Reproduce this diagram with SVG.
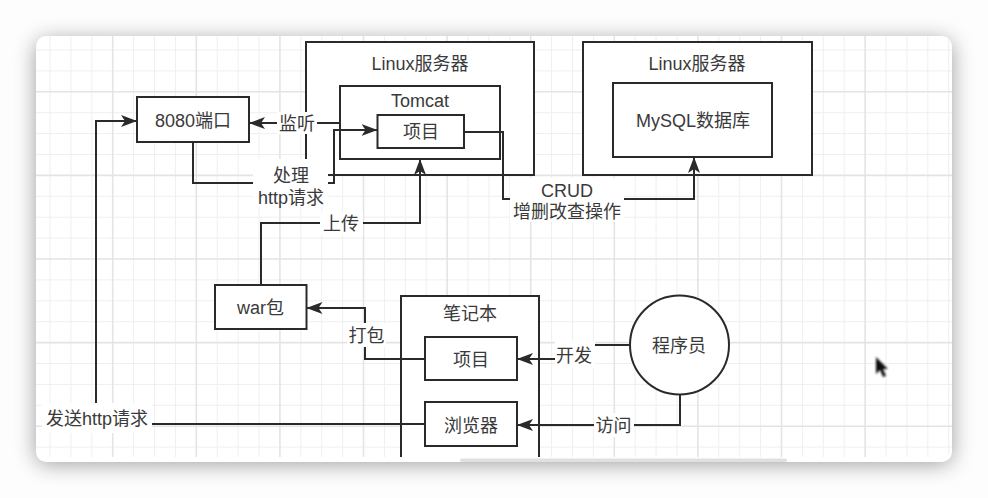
<svg xmlns="http://www.w3.org/2000/svg" width="988" height="498" viewBox="0 0 988 498">
<style>
.box{fill:#fff;stroke:#2a2a2a;stroke-width:2}
.t{font-family:"Liberation Sans","Noto Sans CJK SC",sans-serif;font-size:18px;fill:#3a3a3a;text-anchor:middle}
.e{fill:none;stroke:#2a2a2a;stroke-width:2}
.lb{fill:#fff}
.g{fill:none;stroke:#efefef;stroke-width:1}
.gm{fill:none;stroke:#e4e4e4;stroke-width:1.6}
</style>
<defs>
<marker id="ah" markerUnits="userSpaceOnUse" markerWidth="16" markerHeight="12" viewBox="0 0 16 12" refX="16" refY="6" orient="auto">
<path d="M0,0 L16,6 L0,12 L4,6 Z" fill="#2a2a2a"/>
</marker>
<filter id="sh" x="-20%" y="-20%" width="140%" height="140%">
<feGaussianBlur stdDeviation="11"/>
</filter>
<filter id="cb" x="-50%" y="-50%" width="200%" height="200%">
<feGaussianBlur stdDeviation="0.8"/>
</filter>
<clipPath id="cc">
<rect x="36" y="36" width="916" height="421" rx="10"/>
</clipPath>
</defs>

<rect x="0" y="0" width="988" height="498" fill="#fdfdfd"/>
<rect x="36" y="40" width="916" height="424" rx="10" fill="#000" opacity="0.38" filter="url(#sh)"/>
<rect x="36" y="36" width="916" height="426" rx="10" fill="#fff"/>

<g clip-path="url(#cc)">
<path class="g" d="M50 36V462M70.9 36V462M91.8 36V462M133.6 36V462M154.5 36V462M175.4 36V462M217.2 36V462M238.1 36V462M259 36V462M300.8 36V462M321.7 36V462M342.6 36V462M384.4 36V462M405.3 36V462M426.2 36V462M468 36V462M488.9 36V462M509.8 36V462M551.6 36V462M572.5 36V462M593.4 36V462M635.2 36V462M656.1 36V462M677 36V462M718.8 36V462M739.7 36V462M760.6 36V462M802.4 36V462M823.3 36V462M844.2 36V462M886 36V462M906.9 36V462M927.8 36V462M948.7 36V462M36 50H952M36 70.9H952M36 112.7H952M36 133.6H952M36 154.5H952M36 196.3H952M36 217.2H952M36 238.1H952M36 279.9H952M36 300.8H952M36 321.7H952M36 363.5H952M36 384.4H952M36 405.3H952M36 447.1H952"/>
<path class="gm" d="M112.7 36V462M196.3 36V462M279.9 36V462M363.5 36V462M447.1 36V462M530.7 36V462M614.3 36V462M697.9 36V462M781.5 36V462M865.1 36V462M36 91.8H952M36 175.4H952M36 259H952M36 342.6H952M36 426.2H952"/>

<g id="linux1">
<rect class="box" x="306" y="42" width="228" height="133"/>
<text class="t" x="420" y="69.5">Linux服务器</text>
</g>
<g id="tomcat">
<rect class="box" x="340" y="86" width="160" height="73"/>
<text class="t" x="420" y="106.5">Tomcat</text>
</g>
<g id="project-server">
<rect class="box" x="377.5" y="115" width="86.5" height="33"/>
<text class="t" x="421" y="137.5">项目</text>
</g>
<g id="linux2">
<rect class="box" x="583" y="42" width="229" height="133"/>
<text class="t" x="697" y="69.5">Linux服务器</text>
</g>
<g id="mysql">
<rect class="box" x="613" y="83" width="159" height="74"/>
<text class="t" x="693" y="126.5">MySQL数据库</text>
</g>
<g id="port">
<rect class="box" x="137" y="97" width="112" height="45"/>
<text class="t" x="193" y="126.5">8080端口</text>
</g>
<g id="war">
<rect class="box" x="215" y="285" width="91.5" height="44"/>
<text class="t" x="260.5" y="313.5">war包</text>
</g>
<g id="laptop">
<rect class="box" x="401" y="296" width="138" height="190"/>
<text class="t" x="470" y="319.5">笔记本</text>
</g>
<g id="project-laptop">
<rect class="box" x="425" y="337" width="92" height="43"/>
<text class="t" x="471" y="365.5">项目</text>
</g>
<g id="browser">
<rect class="box" x="425" y="402" width="92" height="44"/>
<text class="t" x="471" y="431.5">浏览器</text>
</g>
<g id="programmer">
<circle class="box" cx="679.5" cy="345" r="49.5"/>
<text class="t" x="679" y="351.5">程序员</text>
</g>

<g id="connectors">
<path class="e" marker-end="url(#ah)" d="M340 123H249"/>
<path class="e" marker-end="url(#ah)" d="M193 142V183H334V130H377.5"/>
<path class="e" marker-end="url(#ah)" d="M261 285V223H420V159"/>
<path class="e" marker-end="url(#ah)" d="M464 132H503V199H694V157"/>
<path class="e" marker-end="url(#ah)" d="M425 359H365V308H306.5"/>
<path class="e" marker-end="url(#ah)" d="M630 345H574V359H517"/>
<path class="e" marker-end="url(#ah)" d="M680 394.5V425H517"/>
<path class="e" marker-end="url(#ah)" d="M425 424H96V121H137"/>

<rect class="lb" x="277" y="112" width="40" height="22"/>
<text class="t" x="297" y="129.5">监听</text>
<rect class="lb" x="253" y="159" width="75" height="48"/>
<text class="t" x="291" y="181.5">处理<tspan x="291" y="203.5">http请求</tspan></text>
<rect class="lb" x="320" y="212" width="43" height="23"/>
<text class="t" x="341" y="229.5">上传</text>
<rect class="lb" x="510" y="178" width="114" height="44"/>
<text class="t" x="567" y="196.5">CRUD<tspan x="567" y="217.5">增删改查操作</tspan></text>
<rect class="lb" x="347" y="323" width="39" height="24"/>
<text class="t" x="366.5" y="341.5">打包</text>
<rect class="lb" x="555" y="341" width="40" height="27"/>
<text class="t" x="574" y="361.5">开发</text>
<rect class="lb" x="594" y="413" width="40" height="24"/>
<text class="t" x="613.5" y="431.5">访问</text>
<rect class="lb" x="42" y="403" width="110" height="30"/>
<text class="t" x="97" y="424.5">发送http请求</text>
</g>
</g>

<rect x="460" y="458.5" width="327" height="3.5" rx="1.7" fill="#e0e0e0"/>
<path d="M876 357V374L880 370L883 377L886 375.8L883 369H888Z" fill="#111" filter="url(#cb)"/>
</svg>
